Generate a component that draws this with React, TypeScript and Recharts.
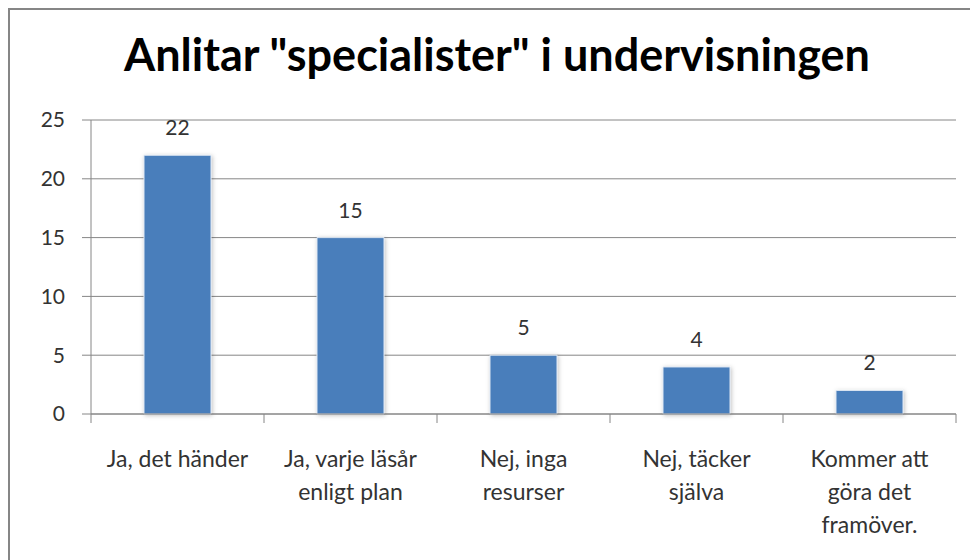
import React from "react";
import {
  BarChart,
  Bar,
  XAxis,
  YAxis,
  CartesianGrid,
  LabelList,
} from "recharts";

const title = 'Anlitar "specialister" i undervisningen';
const categories = [
  "Ja, det händer",
  "Ja, varje läsår enligt plan",
  "Nej, inga resurser",
  "Nej, täcker själva",
  "Kommer att göra det framöver.",
];
const tickLines = [
  ["Ja, det händer"],
  ["Ja, varje läsår", "enligt plan"],
  ["Nej, inga", "resurser"],
  ["Nej, täcker", "själva"],
  ["Kommer att", "göra det", "framöver."],
];
const counts = [22, 15, 5, 4, 2];
const yTicks = [0, 5, 10, 15, 20, 25];

const data = categories.map((name, i) => ({ name, value: counts[i] }));

const W = 968;
const H = 550;
const margin = { top: 110, right: 22, left: 0, bottom: 26 };
const yAxisWidth = 81;
const band = (W - margin.right - margin.left - yAxisWidth) / categories.length;

const font = "Lato, 'Noto Sans', sans-serif";
const gray = "#868686";
const textColor = "#333";

function CategoryTick(props: any) {
  const { x, y, index } = props;
  const lines = tickLines[index] || [];
  const left = x - band / 2;
  const right = x + band / 2;
  return (
    <g>
      <line x1={left} y1={y} x2={left} y2={y + 9} stroke={gray} />
      {index === categories.length - 1 && (
        <line x1={right} y1={y} x2={right} y2={y + 9} stroke={gray} />
      )}
      <text
        x={x}
        y={y + 53}
        textAnchor="middle"
        fontSize={23}
        fontFamily={font}
        fill={textColor}
      >
        {lines.map((l, i) => (
          <tspan key={i} x={x} dy={i === 0 ? 0 : 33}>
            {l}
          </tspan>
        ))}
      </text>
    </g>
  );
}

export default function App() {
  return (
    <div
      style={{
        position: "relative",
        width: W,
        height: H,
        borderTop: `2px solid ${gray}`,
        borderLeft: `2px solid ${gray}`,
        background: "#fff",
        overflow: "hidden",
      }}
    >
      <div
        style={{
          position: "absolute",
          top: 22,
          left: 0,
          width: W + 6,
          textAlign: "center",
          fontFamily: font,
          fontWeight: 700,
          fontSize: 45,
          lineHeight: "45px",
          color: "#000",
        }}
      >
        {title}
      </div>
      <BarChart
        width={W}
        height={H}
        data={data}
        margin={margin}
        barSize={67}
      >
        <defs>
          <filter id="barShadow" x="-20%" y="-20%" width="140%" height="140%">
            <feDropShadow dx="1" dy="1" stdDeviation="2" floodColor="#000" floodOpacity="0.25" />
          </filter>
        </defs>
        <CartesianGrid vertical={false} stroke={gray} />
        <XAxis
          dataKey="name"
          interval={0}
          tickLine={false}
          tickSize={0}
          tickMargin={0}
          height={120}
          axisLine={{ stroke: gray }}
          tick={<CategoryTick />}
        />
        <YAxis
          width={yAxisWidth}
          domain={[0, 25]}
          ticks={yTicks}
          tickSize={9}
          tickMargin={17}
          axisLine={{ stroke: gray }}
          tickLine={{ stroke: gray }}
          tick={{ fontSize: 21, fontFamily: font, fill: textColor }}
        />
        <Bar
          dataKey="value"
          fill="#4A7EBB"
          stroke="#DCE6F2"
          strokeWidth={1}
          filter="url(#barShadow)"
          isAnimationActive={false}
        >
          <LabelList
            dataKey="value"
            position="top"
            offset={20}
            style={{ fontSize: 21, fontFamily: font, fill: textColor }}
          />
        </Bar>
      </BarChart>
    </div>
  );
}
